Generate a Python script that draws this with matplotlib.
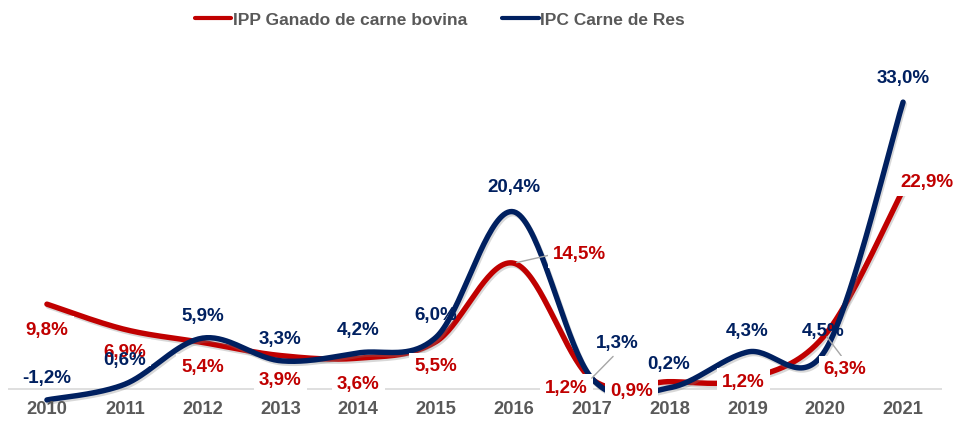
import numpy as np
import matplotlib
matplotlib.use("Agg")
import matplotlib.pyplot as plt
import matplotlib.patheffects as pe
from matplotlib.lines import Line2D

# ---------------- data ----------------
years = ["2010", "2011", "2012", "2013", "2014", "2015", "2016", "2017", "2018", "2019", "2020", "2021"]
ipp_ganado = [9.8, 6.9, 5.4, 3.9, 3.6, 5.5, 14.5, 1.2, 0.9, 1.2, 6.3, 22.9]
ipc_carne = [-1.2, 0.6, 5.9, 3.3, 4.2, 6.0, 20.4, 1.3, 0.2, 4.3, 4.5, 33.0]
series_names = ["IPP Ganado de carne bovina", "IPC Carne de Res"]

# ---------------- style ----------------
RED = "#C00000"
NAVY = "#002060"
GRAY_TXT = "#595959"
FONT = ["Liberation Sans", "DejaVu Sans"]
plt.rcParams["font.family"] = FONT
plt.rcParams["font.weight"] = "bold"

# label offsets in pixels (dx, dy)
red_off = [(0, -26), (0, -23), (0, -25), (0, -25), (0, -26), (0, -25),
           (66, 9), (-25, -9), (-38, -10), (-4, -3), (20, -35), (24, 8)]
blue_off = [(0, 21), (0, 24), (0, 22), (0, 21), (0, 22), (0, 22),
            (0, 24), (26, 35), (-1, 23), (0, 21), (-2, 19), (0, 24)]
red_leader = {6: (0.0, 0.5), 10: (0.5, 1.0)}
blue_leader = {7: (0.5, 0.0)}


def smooth(xs, ys, n=40):
    """Excel-like smoothed line (Catmull-Rom style cubic Bezier)."""
    P = np.column_stack([xs, ys]).astype(float)
    m = len(P)
    out = []
    for i in range(m - 1):
        p0 = P[i - 1] if i > 0 else P[i]
        p1 = P[i]
        p2 = P[i + 1]
        p3 = P[i + 2] if i + 2 < m else P[i + 1]
        c1 = p1 + (p2 - p0) / 6.0
        c2 = p2 - (p3 - p1) / 6.0
        t = np.linspace(0, 1, n)[:, None]
        seg = ((1 - t) ** 3) * p1 + 3 * ((1 - t) ** 2) * t * c1 + 3 * (1 - t) * t ** 2 * c2 + t ** 3 * p2
        if i > 0:
            seg = seg[1:]
        out.append(seg)
    out = np.vstack(out)
    return out[:, 0], out[:, 1]


def fmt(v):
    return f"{v:.1f}".replace(".", ",") + "%"


fig = plt.figure(figsize=(9.56, 4.21), dpi=100)
ax = fig.add_axes([8 / 956, 0.0128, 934 / 956, 0.786])
ax.set_xlim(-0.5, len(years) - 0.5)
ax.set_ylim(-3, 35)
ax.axis("off")

x = np.arange(len(years))
ax.axhline(0, color="#D9D9D9", lw=1.2, zorder=1)

shadow = [pe.SimpleLineShadow(offset=(1.0, -1.5), shadow_color="#808080", alpha=0.3),
          pe.Normal()]
for vals, col in [(ipp_ganado, RED), (ipc_carne, NAVY)]:
    sx, sy = smooth(x, vals)
    ax.plot(sx, sy, color=col, lw=3.9, solid_capstyle="round",
            path_effects=shadow, zorder=2)

# year labels
for i, yr in enumerate(years):
    ax.text(i, -2.3, yr, ha="center", va="center", fontsize=13.2,
            color=GRAY_TXT, fontweight="bold", zorder=6)

# data labels
for i, v in enumerate(ipp_ganado):
    kw = {}
    if i in red_leader:
        kw["arrowprops"] = dict(arrowstyle="-", color="#A6A6A6", lw=1,
                                shrinkA=0, shrinkB=2, relpos=red_leader[i])
    ax.annotate(fmt(v), xy=(i, v), xytext=red_off[i], textcoords="offset pixels",
                ha="center", va="center", fontsize=13.5, color=RED, fontweight="bold",
                bbox=dict(boxstyle="square,pad=0.28", facecolor="white", edgecolor="none"),
                zorder=3, annotation_clip=False, **kw)

for i, v in enumerate(ipc_carne):
    kw = {}
    if i in blue_leader:
        kw["arrowprops"] = dict(arrowstyle="-", color="#A6A6A6", lw=1,
                                shrinkA=2, shrinkB=0, relpos=blue_leader[i])
    ax.annotate(fmt(v), xy=(i, v), xytext=blue_off[i], textcoords="offset pixels",
                ha="center", va="center", fontsize=13.5, color=NAVY, fontweight="bold",
                zorder=4, annotation_clip=False, **kw)

# legend
handles = [Line2D([], [], color=RED, lw=3, solid_capstyle="round"),
           Line2D([], [], color=NAVY, lw=3, solid_capstyle="round")]
leg = fig.legend(handles, series_names, loc="center", bbox_to_anchor=(440 / 956, 1 - 20 / 421),
                 ncol=2, frameon=False, handlelength=2.1, handletextpad=0.1,
                 columnspacing=2.0, prop=dict(family=FONT, weight="bold", size=12.5))
for t in leg.get_texts():
    t.set_color(GRAY_TXT)

fig.savefig("out.png", dpi=100)
